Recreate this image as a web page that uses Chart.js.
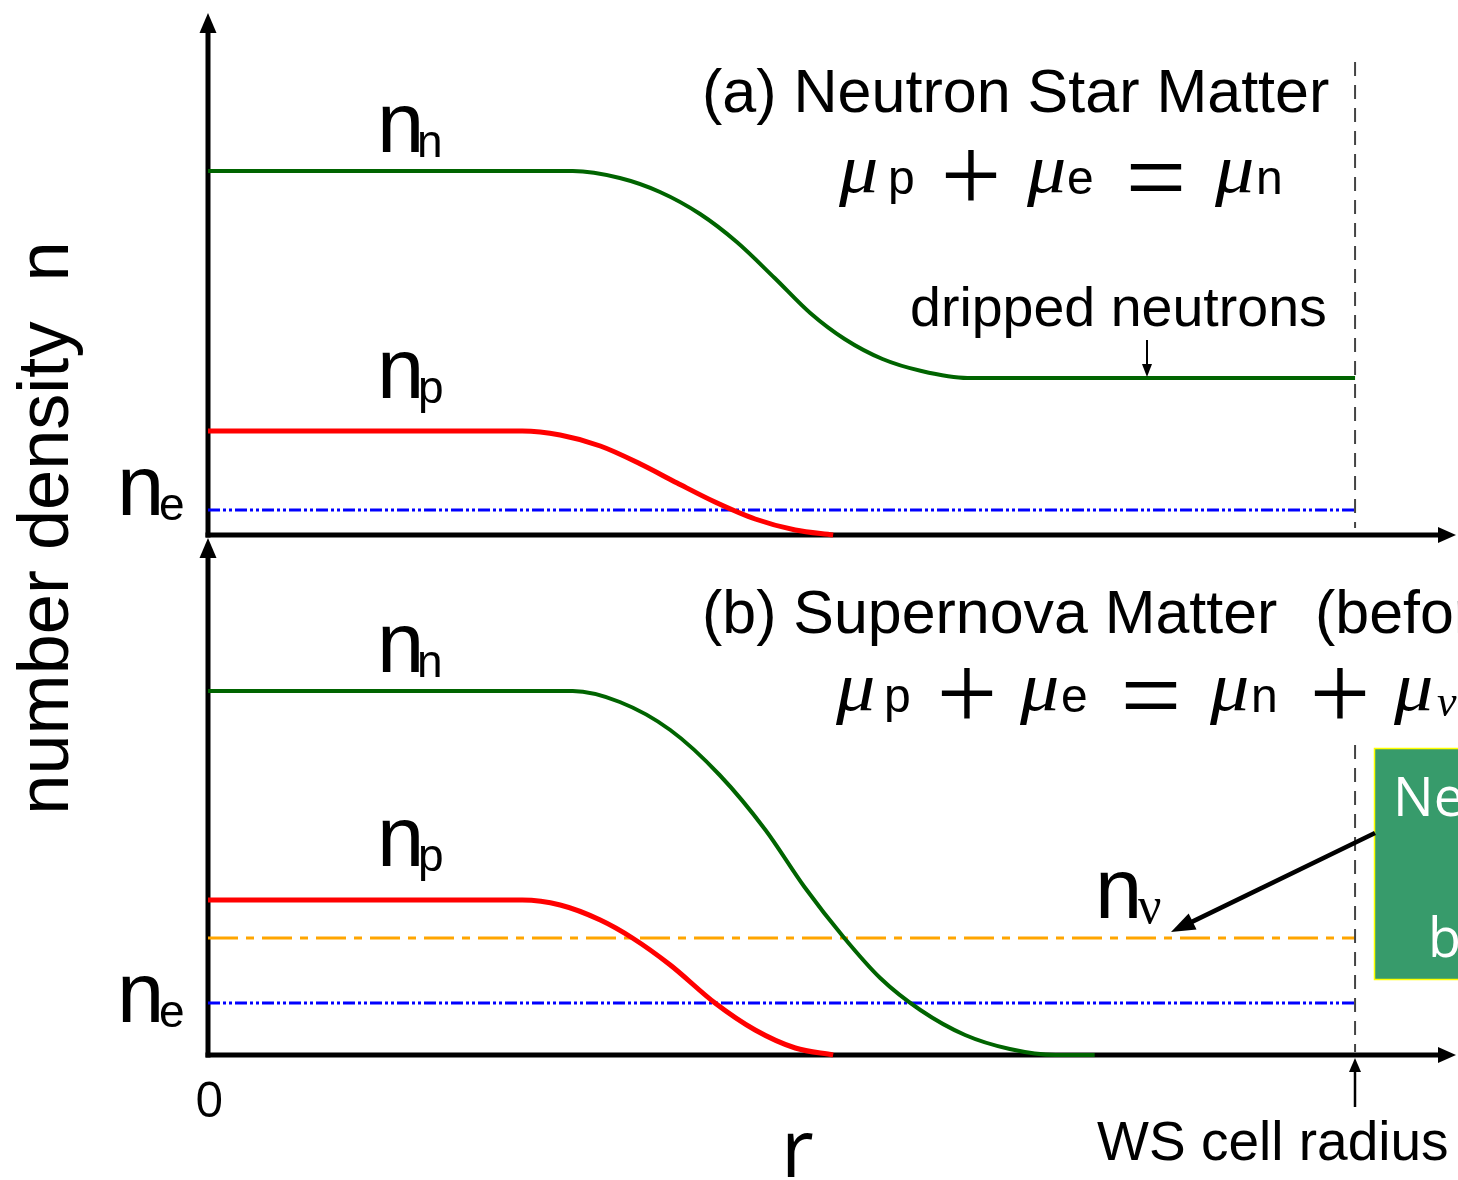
<!DOCTYPE html>
<html>
<head>
<meta charset="utf-8">
<script src="https://cdn.jsdelivr.net/npm/chart.js@4/dist/chart.umd.min.js"></script>
<style>
  html, body { margin: 0; padding: 0; background: #fff; overflow: hidden; }
  #wrap { position: relative; width: 1458px; height: 1180px; }
  #wrap canvas { position: absolute; left: 0; top: 0; }
</style>
</head>
<body>
<div id="wrap">
  <canvas id="panelA" width="1458" height="1180"></canvas>
  <canvas id="panelB" width="1458" height="1180"></canvas>
</div>
<script>
// radial coordinate r (arbitrary units); the Wigner–Seitz cell edge sits at r = 10
const R_WS = 10;
const R_MAX = 10.88;

// (a) neutron star matter
const rA_nn = [0, 3.18, 3.59, 3.94, 4.29, 4.61, 4.94, 5.25, 5.55, 5.88, 6.22, 6.62, 10];
const nA_nn = [3.64, 3.64, 3.57, 3.43, 3.21, 2.93, 2.57, 2.22, 1.96, 1.76, 1.64, 1.57, 1.57];
const rA_np = [0, 2.74, 3.07, 3.42, 3.77, 4.09, 4.42, 4.77, 5.12, 5.45];
const nA_np = [1.04, 1.04, 1.00, 0.89, 0.71, 0.52, 0.33, 0.16, 0.05, 0];
const rA_ne = [0, 10];
const nA_ne = [0.25, 0.25];

// (b) supernova matter
const rB_nn = [0, 3.18, 3.59, 4.03, 4.46, 4.86, 5.20, 5.54, 5.86, 6.21, 6.60, 6.99, 7.39, 7.73];
const nB_nn = [3.64, 3.64, 3.53, 3.25, 2.80, 2.25, 1.68, 1.18, 0.77, 0.45, 0.20, 0.06, 0, 0];
const rB_np = [0, 2.74, 3.07, 3.42, 3.70, 4.03, 4.42, 4.77, 5.12, 5.45];
const nB_np = [1.55, 1.55, 1.50, 1.35, 1.17, 0.90, 0.52, 0.25, 0.07, 0];
const rB_nu = [0, 10];
const nB_nu = [1.17, 1.17];
const rB_ne = [0, 10];
const nB_ne = [0.52, 0.52];

const SANS = '"Liberation Sans", Arial, sans-serif';
const SERIF = '"Liberation Serif", "Times New Roman", serif';
const ROUND = '"Open Sans", sans-serif';

const GREEN = '#006400', RED = '#ff0000', BLUE = '#0000ff', ORANGE = '#ffa500';

function pts(r, n) { return r.map((x, i) => ({ x, y: n[i] })); }

function series(r, n, color, width, dash) {
  return {
    data: pts(r, n), borderColor: color, borderWidth: width, borderDash: dash || [],
    cubicInterpolationMode: 'monotone', fill: false, clip: false, pointRadius: 0
  };
}

// text helpers: place by ink-left / baseline, or by ink centre
function ink(ctx, text, font, left, base, color) {
  ctx.font = font; ctx.fillStyle = color || '#000';
  ctx.textAlign = 'left'; ctx.textBaseline = 'alphabetic';
  const m = ctx.measureText(text);
  ctx.fillText(text, left + m.actualBoundingBoxLeft, base);
}
function inkMid(ctx, text, font, cx, cy) {
  ctx.font = font; ctx.fillStyle = '#000';
  ctx.textAlign = 'left'; ctx.textBaseline = 'alphabetic';
  const m = ctx.measureText(text);
  const w = m.actualBoundingBoxLeft + m.actualBoundingBoxRight;
  const h = m.actualBoundingBoxAscent + m.actualBoundingBoxDescent;
  ctx.fillText(text, cx - w / 2 + m.actualBoundingBoxLeft, cy - h / 2 + m.actualBoundingBoxAscent);
}
// wide italic mu of the chemical potentials
function mu(ctx, left, base) {
  ctx.save();
  ctx.translate(left, base); ctx.scale(1.12, 1);
  ink(ctx, '\u03bc', 'italic 70px ' + SERIF, 0, 0);
  ctx.restore();
}
function fitSize(ctx, text, family, width) {
  ctx.font = '100px ' + family;
  const m = ctx.measureText(text);
  return 100 * width / (m.actualBoundingBoxLeft + m.actualBoundingBoxRight);
}
function arrowHead(ctx, tipX, tipY, dirX, dirY, len, half) {
  const bx = tipX - dirX * len, by = tipY - dirY * len;
  ctx.beginPath();
  ctx.moveTo(tipX, tipY);
  ctx.lineTo(bx - dirY * half, by + dirX * half);
  ctx.lineTo(bx + dirY * half, by - dirX * half);
  ctx.closePath();
  ctx.fill();
}
function arrow(ctx, x1, y1, x2, y2, width, len, half) {
  const d = Math.hypot(x2 - x1, y2 - y1), ux = (x2 - x1) / d, uy = (y2 - y1) / d;
  ctx.strokeStyle = '#000'; ctx.fillStyle = '#000'; ctx.lineWidth = width; ctx.setLineDash([]);
  ctx.beginPath(); ctx.moveTo(x1, y1); ctx.lineTo(x2 - ux * len * 0.8, y2 - uy * len * 0.8); ctx.stroke();
  arrowHead(ctx, x2, y2, ux, uy, len, half);
}
// density label: n with a subscript
function nLabel(ctx, left, base, sub, subFont) {
  ink(ctx, 'n', '85px ' + SANS, left, base);
  ink(ctx, sub, subFont || ('46px ' + SANS), left + 38, base + 5);
}
function wsLine(chart, yFrom, yTo) {
  const ctx = chart.ctx, x = chart.scales.x.getPixelForValue(R_WS);
  ctx.save();
  ctx.strokeStyle = '#444'; ctx.lineWidth = 2; ctx.setLineDash([14, 9]);
  ctx.beginPath(); ctx.moveTo(x, yFrom); ctx.lineTo(x, yTo); ctx.stroke();
  ctx.restore();
}

// coordinate axes with arrowheads, drawn under the curves
function drawAxes(chart) {
  const ctx = chart.ctx, xs = chart.scales.x, ys = chart.scales.y, a = chart.chartArea;
  const x0 = xs.getPixelForValue(0), y0 = ys.getPixelForValue(0);
  ctx.save();
  ctx.fillStyle = '#000'; ctx.strokeStyle = '#000'; ctx.lineWidth = 5; ctx.setLineDash([]);
  ctx.beginPath(); ctx.moveTo(x0, y0 + 2.5); ctx.lineTo(x0, a.top + 16); ctx.stroke();
  arrowHead(ctx, x0, a.top - 2, 0, -1, 20, 8.5);
  ctx.beginPath(); ctx.moveTo(x0 - 2.5, y0); ctx.lineTo(a.right - 14, y0); ctx.stroke();
  arrowHead(ctx, a.right, y0, 1, 0, 18, 8);
  ctx.restore();
}

function equation(ctx, parts) {
  for (const p of parts) {
    if (p.mu) mu(ctx, p.x, p.b);
    else if (p.sym) inkMid(ctx, p.sym, '108px ' + SERIF, p.x, p.b);
    else ink(ctx, p.t, p.f || ('48px ' + SANS), p.x, p.b);
  }
}

function drawPanelA(chart) {
  const ctx = chart.ctx;
  ctx.save();
  // y-axis title spanning both panels
  const ts = fitSize(ctx, 'number density  n', SANS, 565);
  ctx.save();
  ctx.translate(68, 528); ctx.rotate(-Math.PI / 2);
  ctx.font = ts + 'px ' + SANS; ctx.fillStyle = '#000'; ctx.textAlign = 'center'; ctx.textBaseline = 'alphabetic';
  ctx.fillText('number density  n', 0, 0);
  ctx.restore();

  const hs = fitSize(ctx, '(a) Neutron Star Matter', SANS, 623);
  ink(ctx, '(a) Neutron Star Matter', hs + 'px ' + SANS, 705, 112);

  equation(ctx, [
    { mu: 1, x: 838, b: 192 }, { t: 'p', x: 891, b: 194 },
    { sym: '+', x: 971, b: 175 },
    { mu: 1, x: 1026, b: 192 }, { t: 'e', x: 1069, b: 194 },
    { sym: '=', x: 1156, b: 177 },
    { mu: 1, x: 1214, b: 192 }, { t: 'n', x: 1259, b: 194 }
  ]);

  nLabel(ctx, 382, 152, 'n');
  nLabel(ctx, 382, 398, 'p');
  nLabel(ctx, 122, 515, 'e');

  const ds = fitSize(ctx, 'dripped neutrons', SANS, 413);
  ink(ctx, 'dripped neutrons', ds + 'px ' + SANS, 912, 326);
  arrow(ctx, 1147, 340, 1147, 377, 2, 13, 5);

  wsLine(chart, 62, 528);
  ctx.restore();
}

function drawPanelB(chart) {
  const ctx = chart.ctx;
  ctx.save();
  const hs = fitSize(ctx, '(b) Supernova Matter', SANS, 571);
  ink(ctx, '(b) Supernova Matter', hs + 'px ' + SANS, 705, 633);
  ink(ctx, '(before', hs + 'px ' + SANS, 1318, 633);

  equation(ctx, [
    { mu: 1, x: 835, b: 710 }, { t: 'p', x: 887, b: 712 },
    { sym: '+', x: 967, b: 693 },
    { mu: 1, x: 1019, b: 710 }, { t: 'e', x: 1063, b: 712 },
    { sym: '=', x: 1151, b: 695 },
    { mu: 1, x: 1209, b: 710 }, { t: 'n', x: 1254, b: 712 },
    { sym: '+', x: 1340, b: 693 },
    { mu: 1, x: 1393, b: 710 }, { t: '\u03bd', x: 1437, b: 716, f: 'italic 44px ' + SERIF }
  ]);

  nLabel(ctx, 382, 672, 'n');
  nLabel(ctx, 382, 866, 'p');
  nLabel(ctx, 122, 1022, 'e');
  nLabel(ctx, 1100, 918, '\u03bd', '52px ' + SERIF);

  wsLine(chart, 745, 1052);

  // annotation box on the right edge
  ctx.fillStyle = '#379b6b';
  ctx.fillRect(1374, 748, 100, 232);
  ctx.strokeStyle = '#ffff00'; ctx.lineWidth = 1.5; ctx.setLineDash([]);
  ctx.strokeRect(1374.5, 748.5, 100, 231);
  ink(ctx, 'Ne', '54px ' + ROUND, 1398, 816, '#fff');
  ink(ctx, 'b', '54px ' + ROUND, 1432, 957, '#fff');
  arrow(ctx, 1375, 833, 1171, 932, 4.5, 24, 9);

  // r axis annotations
  ink(ctx, '0', '50px ' + ROUND, 197, 1117);
  ink(ctx, 'r', '80px ' + ROUND, 787, 1177);
  const ws = fitSize(ctx, 'WS cell radius', SANS, 350);
  ink(ctx, 'WS cell radius', ws + 'px ' + SANS, 1097, 1160);
  arrow(ctx, 1355, 1107, 1355, 1058, 2.5, 14, 6);
  ctx.restore();
}

function makeChart(id, yMax, pad, datasets, drawFn) {
  return new Chart(document.getElementById(id), {
    type: 'line',
    data: { datasets },
    options: {
      responsive: false, animation: false, events: [],
      layout: { padding: pad },
      plugins: { legend: { display: false }, tooltip: { enabled: false }, title: { display: false } },
      scales: {
        x: { type: 'linear', min: 0, max: R_MAX, display: false },
        y: { type: 'linear', min: 0, max: yMax, display: false }
      },
      elements: { point: { radius: 0 }, line: { borderCapStyle: 'butt' } }
    },
    plugins: [{ id: 'frame', beforeDatasetsDraw: drawAxes, afterDraw: drawFn }]
  });
}

makeChart('panelA', 5.2, { left: 208, right: 2, top: 15, bottom: 645 }, [
  series(rA_nn, nA_nn, GREEN, 4),
  series(rA_np, nA_np, RED, 5),
  series(rA_ne, nA_ne, BLUE, 3, [12, 3, 3, 3, 3, 3])
], drawPanelA);

makeChart('panelB', 5.15, { left: 208, right: 2, top: 540, bottom: 125 }, [
  series(rB_nn, nB_nn, GREEN, 4),
  series(rB_np, nB_np, RED, 5),
  series(rB_nu, nB_nu, ORANGE, 3, [30, 8, 8, 8]),
  series(rB_ne, nB_ne, BLUE, 3, [12, 3, 3, 3, 3, 3])
], drawPanelB);
</script>
</body>
</html>
